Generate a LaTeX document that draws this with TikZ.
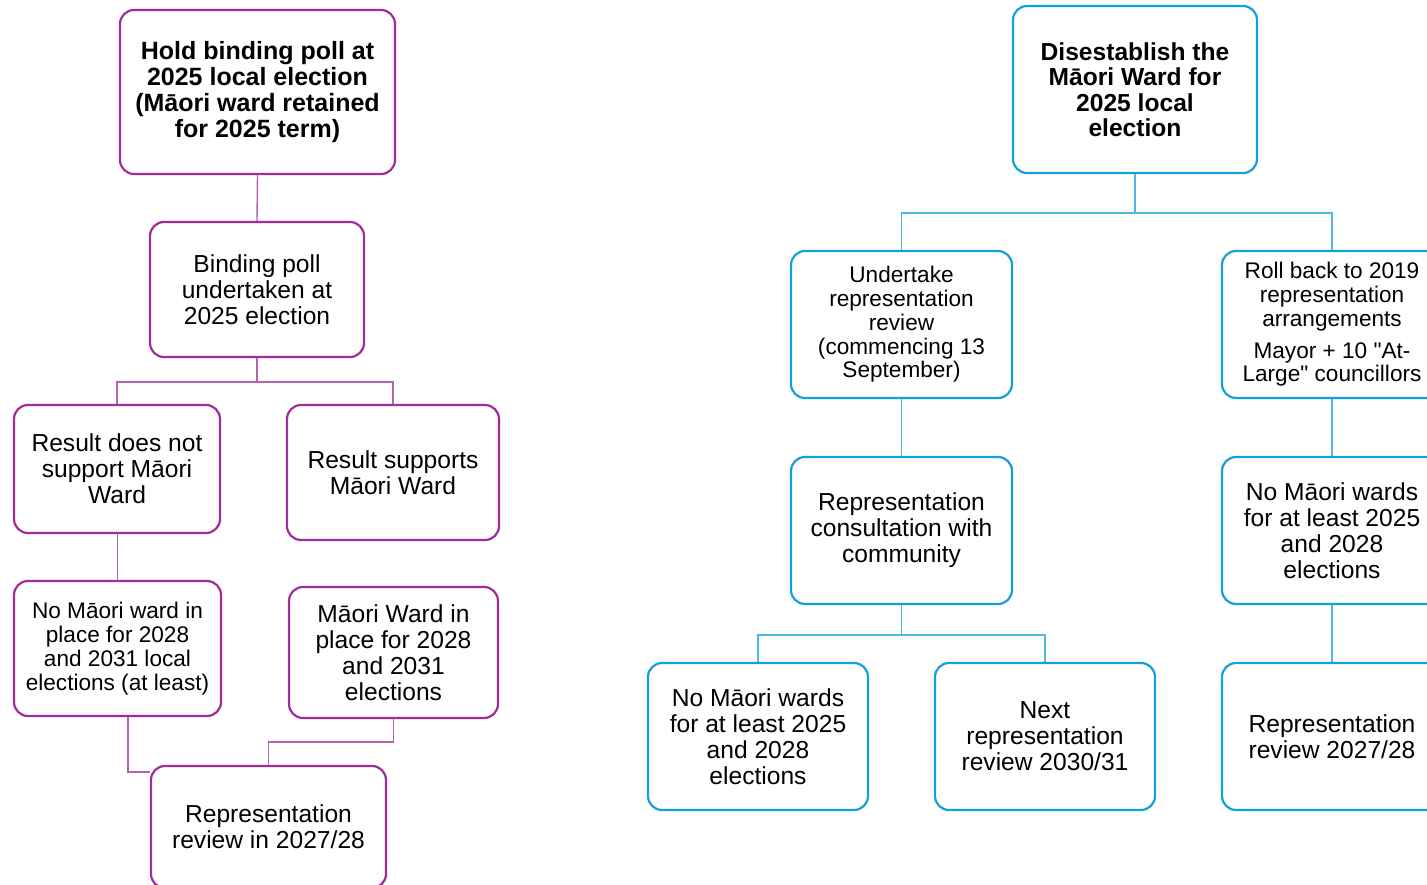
\documentclass[tikz,border=0pt]{standalone}
\usepackage{fontspec}
\setmainfont{Liberation Sans}[Ligatures=TeXOff]
\definecolor{pp}{RGB}{160,45,155}
\definecolor{bl}{RGB}{20,160,220}
\tikzset{
  box/.style={draw, line width=2.2pt, rounded corners=14pt, fill=white, align=center, inner sep=0pt, anchor=center},
  pbox/.style={box, draw=pp},
  bbox/.style={box, draw=bl},
  big/.style={font=\fontsize{24.6}{26}\selectfont},
  small/.style={font=\fontsize{22.6}{23.8}\selectfont},
  pcon/.style={draw=pp!75, line width=1.4pt},
  bcon/.style={draw=bl!75, line width=1.4pt},
}
\begin{document}
\begin{tikzpicture}[x=1pt,y=-1pt]
\useasboundingbox (0,0) rectangle (1427,885);
\clip (0,0) rectangle (1427,885);
% left tree
\node[pbox, minimum width=275pt, minimum height=164pt, font=\fontsize{25}{26}\selectfont\bfseries] (A) at (257.5,92) {Hold binding poll at\\2025 local election\\(Māori ward retained\\for 2025 term)};
\node[pbox, big, minimum width=214pt, minimum height=135pt] (B) at (257,289.5) {Binding poll\\undertaken at\\2025 election};
\node[pbox, big, minimum width=206pt, minimum height=128pt] (C) at (117,469) {Result does not\\support Māori\\Ward};
\node[pbox, big, minimum width=212pt, minimum height=135pt] (D) at (393,472.5) {Result supports\\Māori Ward};
\node[pbox, small, minimum width=207pt, minimum height=135pt] (E) at (117.5,648.5) {No Māori ward in\\place for 2028\\and 2031 local\\elections (at least)};
\node[pbox, big, minimum width=209pt, minimum height=131pt] (F) at (393.5,652.5) {Māori Ward in\\place for 2028\\and 2031\\elections};
\node[pbox, big, minimum width=235pt, minimum height=122pt] (G) at (268.5,827) {Representation\\review in 2027/28};
\draw[pcon] (A.south) -- (B.north);
\draw[pcon] (B.south) -- ++(0,24) -| (C.north);
\draw[pcon] (B.south) -- ++(0,24) -| (D.north);
\draw[pcon] (C.south) -- (E.south |- C.south) -- (E.north);
\draw[pcon] ([xshift=10.5pt]E.south) |- ([yshift=55pt]G.west);
\draw[pcon] (F.south) -- ++(0,23) -| (G.north);
% right tree
\node[bbox, minimum width=244pt, minimum height=167pt, font=\fontsize{24.6}{25.5}\selectfont\bfseries] (H) at (1135,89.5) {Disestablish the\\Māori Ward for\\2025 local\\election};
\node[bbox, small, minimum width=221pt, minimum height=147pt] (I) at (901.5,324.5) {Undertake\\representation\\review\\(commencing 13\\September)};
\node[bbox, small, minimum width=220pt, minimum height=147pt] (J) at (1332,324.5) {Roll back to 2019\\representation\\arrangements\\[8pt]Mayor + 10 "At-\\Large" councillors};
\node[bbox, big, minimum width=221pt, minimum height=147pt] (K) at (901.5,530.5) {Representation\\consultation with\\community};
\node[bbox, big, minimum width=220pt, minimum height=147pt] (L) at (1332,530.5) {No Māori wards\\for at least 2025\\and 2028\\elections};
\node[bbox, big, minimum width=220pt, minimum height=147pt] (M) at (758,736.5) {No Māori wards\\for at least 2025\\and 2028\\elections};
\node[bbox, big, minimum width=220pt, minimum height=147pt] (N) at (1045,736.5) {Next\\representation\\review 2030/31};
\node[bbox, big, minimum width=220pt, minimum height=147pt] (O) at (1332,736.5) {Representation\\review 2027/28};
\draw[bcon] (H.south) -- ++(0,39) -| (I.north);
\draw[bcon] (H.south) -- ++(0,39) -| (J.north);
\draw[bcon] (I.south) -- (K.north);
\draw[bcon] (J.south) -- (L.north);
\draw[bcon] (L.south) -- (O.north);
\draw[bcon] (K.south) -- ++(0,30) -| (M.north);
\draw[bcon] (K.south) -- ++(0,30) -| (N.north);
\end{tikzpicture}
\end{document}
